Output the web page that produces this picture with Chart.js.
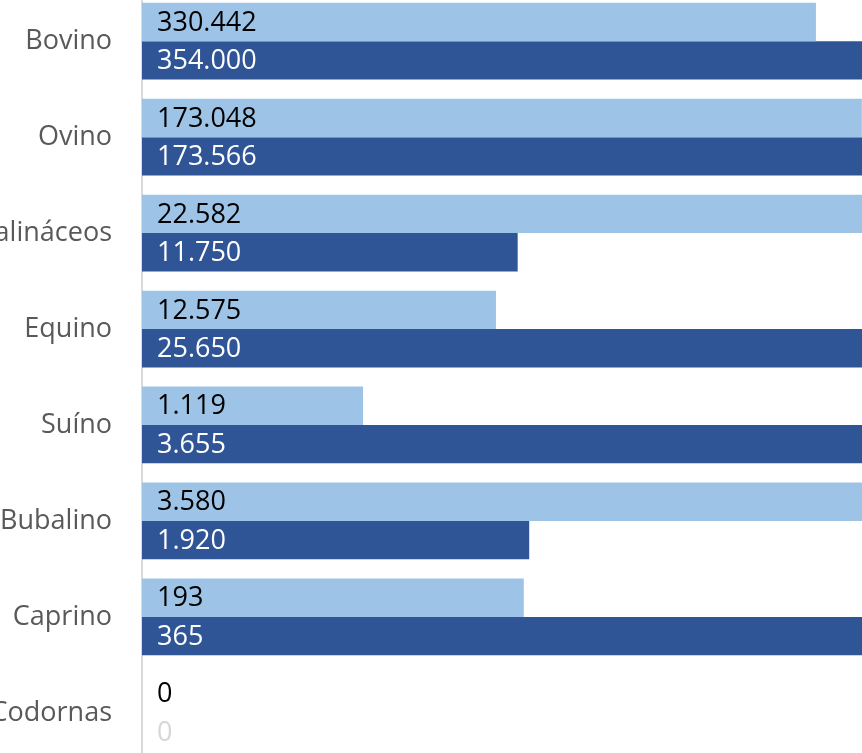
<!DOCTYPE html>
<html>
<head>
<meta charset="utf-8">
<script src="https://cdn.jsdelivr.net/npm/chart.js@4/dist/chart.umd.min.js"></script>
<style>
    body { margin: 0; overflow: hidden; background: #fff; }
    /* Chart.js keeps ~46px above and below the plot here, so the box is taller and shifted up */
    .wrap { position: absolute; left: 0; top: -53px; width: 864px; height: 860px; }
</style>
</head>
<body>
<div class="wrap"><canvas id="herdChart"></canvas></div>
<script>
// categories and the two series (top = light, bottom = dark)
const categories = ['Bovino', 'Ovino', 'Galináceos', 'Equino', 'Suíno', 'Bubalino', 'Caprino', 'Codornas'];
const seriesLight = [330442, 173048, 22582, 12575, 1119, 3580, 193, 0];
const seriesDark = [354000, 173566, 11750, 25650, 3655, 1920, 365, 0];

// each category is shown relative to its own largest value
const pairMax = categories.map((c, i) => Math.max(seriesLight[i], seriesDark[i]));
const share = arr => arr.map((v, i) => pairMax[i] ? v / pairMax[i] * 100 : 0);

const fmt = v => String(v).replace(/\B(?=(\d{3})+(?!\d))/g, '.');

const labelColors = ['#000000', '#ffffff'];

// Plugin to write the real value at the base of each bar
const valuePlugin = {
    id: 'valuePlugin',
    afterDatasetsDraw(chart) {
        const { ctx, chartArea } = chart;
        const raw = [seriesLight, seriesDark];
        ctx.save();
        ctx.font = '27px "Open Sans"';
        ctx.textAlign = 'left';
        ctx.textBaseline = 'middle';
        chart.data.datasets.forEach((ds, d) => {
            chart.getDatasetMeta(d).data.forEach((bar, i) => {
                const v = raw[d][i];
                ctx.fillStyle = (d === 1 && v === 0) ? '#d6d6d6' : labelColors[d];
                ctx.fillText(fmt(v), chartArea.left + 15, bar.y + 1);
            });
        });
        ctx.restore();
    }
};

const ctx = document.getElementById('herdChart').getContext('2d');
new Chart(ctx, {
    type: 'bar',
    data: {
        labels: categories,
        datasets: [{
            data: share(seriesLight),
            backgroundColor: '#9dc3e6',
            categoryPercentage: 0.8,
            barPercentage: 1.0
        }, {
            data: share(seriesDark),
            backgroundColor: '#2f5597',
            categoryPercentage: 0.8,
            barPercentage: 1.0
        }]
    },
    options: {
        indexAxis: 'y',
        responsive: true,
        maintainAspectRatio: false,
        animation: false,
        layout: { padding: 0 },
        plugins: {
            legend: { display: false },
            tooltip: { enabled: false }
        },
        scales: {
            x: { display: false, min: 0, max: 100 },
            y: {
                grid: { display: false, drawTicks: false },
                border: { display: true, color: '#d9d9d9', width: 2 },
                ticks: {
                    color: '#595959',
                    font: { family: 'Open Sans', size: 27 },
                    padding: 30
                },
                afterFit(scale) { scale.width = 142; }
            }
        }
    },
    plugins: [valuePlugin]
});
</script>
</body>
</html>
